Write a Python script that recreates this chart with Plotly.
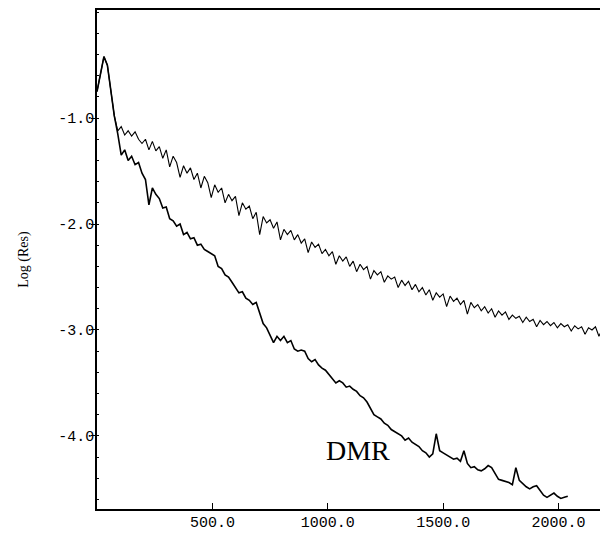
import plotly.graph_objects as go

# Residual history (log10 of residual) sampled every 15 iterations
ITER_STEP = 15

res_standard = [
    -0.75, -0.60, -0.42, -0.50, -0.72, -0.98, -1.12, -1.08, -1.16, -1.12,
    -1.17, -1.13, -1.20, -1.24, -1.20, -1.30, -1.22, -1.31, -1.27, -1.38,
    -1.30, -1.46, -1.36, -1.42, -1.56, -1.45, -1.52, -1.47, -1.58, -1.52,
    -1.66, -1.55, -1.61, -1.75, -1.63, -1.70, -1.66, -1.80, -1.72, -1.78,
    -1.74, -1.92, -1.80, -1.86, -1.83, -1.95, -1.89, -2.10, -1.93, -1.99,
    -1.96, -2.04, -1.98, -2.15, -2.05, -2.10, -2.06, -2.15, -2.10, -2.18,
    -2.14, -2.27, -2.17, -2.22, -2.19, -2.28, -2.24, -2.30, -2.26, -2.38,
    -2.30, -2.35, -2.31, -2.40, -2.35, -2.45, -2.38, -2.43, -2.40, -2.52,
    -2.44, -2.48, -2.45, -2.55, -2.49, -2.52, -2.50, -2.60, -2.53, -2.58,
    -2.54, -2.62, -2.57, -2.64, -2.60, -2.67, -2.62, -2.72, -2.65, -2.69,
    -2.66, -2.78, -2.68, -2.73, -2.70, -2.76, -2.72, -2.85, -2.74, -2.79,
    -2.76, -2.82, -2.78, -2.84, -2.80, -2.88, -2.82, -2.86, -2.83, -2.90,
    -2.86, -2.89, -2.87, -2.93, -2.88, -2.92, -2.90, -2.97, -2.91, -2.95,
    -2.92, -2.96, -2.93, -2.98, -2.94, -2.97, -2.95, -3.01, -2.96, -2.99,
    -2.97, -3.04, -2.98, -3.00, -2.97, -3.06, -2.99,
]

res_dmr = [
    -0.75, -0.60, -0.42, -0.50, -0.72, -0.98, -1.15, -1.35, -1.30, -1.40,
    -1.36, -1.44, -1.42, -1.52, -1.58, -1.82, -1.66, -1.72, -1.76, -1.85,
    -1.84, -1.95, -1.97, -2.02, -2.00, -2.10, -2.08, -2.14, -2.13, -2.20,
    -2.19, -2.24, -2.26, -2.28, -2.30, -2.40, -2.42, -2.48, -2.50, -2.55,
    -2.60, -2.65, -2.64, -2.70, -2.72, -2.76, -2.74, -2.85, -2.94, -2.98,
    -3.05, -3.12, -3.06, -3.10, -3.06, -3.12, -3.10, -3.18, -3.20, -3.19,
    -3.20, -3.27, -3.30, -3.28, -3.33, -3.36, -3.38, -3.42, -3.45, -3.50,
    -3.48, -3.50, -3.54, -3.53, -3.56, -3.58, -3.62, -3.64, -3.68, -3.74,
    -3.80, -3.82, -3.84, -3.88, -3.90, -3.94, -3.96, -3.98, -4.00, -4.04,
    -4.02, -4.06, -4.08, -4.10, -4.14, -4.16, -4.20, -4.17, -3.98, -4.14,
    -4.16, -4.18, -4.20, -4.22, -4.21, -4.24, -4.14, -4.26, -4.30, -4.29,
    -4.32, -4.33, -4.31, -4.28, -4.30, -4.36, -4.41, -4.42, -4.43, -4.44,
    -4.46, -4.30, -4.42, -4.45, -4.48, -4.50, -4.48, -4.47, -4.52, -4.56,
    -4.58, -4.56, -4.54, -4.57, -4.59, -4.58, -4.57,
]

iters_standard = list(range(0, ITER_STEP * len(res_standard), ITER_STEP))
iters_dmr = list(range(0, ITER_STEP * len(res_dmr), ITER_STEP))

x_ticks = [500, 1000, 1500, 2000]
x_tick_labels = ["500.0", "1000.0", "1500.0", "2000.0"]
y_ticks = [-1, -2, -3, -4]
y_tick_labels = ["-1.0", "-2.0", "-3.0", "-4.0"]
y_title = "Log (Res)"
label_text = "DMR"

fig = go.Figure()
fig.add_trace(go.Scatter(x=iters_standard, y=res_standard, mode="lines",
                         line=dict(color="black", width=1.1), showlegend=False))
fig.add_trace(go.Scatter(x=iters_dmr, y=res_dmr, mode="lines",
                         line=dict(color="black", width=1.6), showlegend=False))

fig.add_annotation(x=1130, y=-4.14, text=label_text, showarrow=False,
                   font=dict(family="Liberation Serif", size=28, color="black"))

tick_font = dict(family="Liberation Mono", size=15, color="black")

# the page body adds an 8px offset, so margins are shifted to compensate
fig.update_layout(
    width=608, height=533,
    margin=dict(l=89, r=12, t=0, b=32),
    paper_bgcolor="white", plot_bgcolor="white",
    xaxis=dict(range=[0, 2197], tickvals=x_ticks, ticktext=x_tick_labels,
               ticks="inside", ticklen=6, tickcolor="black", tickwidth=1,
               ticklabelstandoff=-2,
               showline=True, linecolor="black", linewidth=1.5, mirror=True,
               showgrid=False, zeroline=False, tickfont=tick_font),
    yaxis=dict(range=[-4.69, 0.02], tickvals=y_ticks, ticktext=y_tick_labels,
               ticks="outside", ticklen=4, tickcolor="black", tickwidth=1,
               ticklabelstandoff=-6,
               showline=True, linecolor="black", linewidth=1.5, mirror=True,
               showgrid=False, zeroline=False, tickfont=tick_font,
               minor=dict(dtick=0.2, ticks="inside", ticklen=2, tickcolor="black"),
               title=dict(text=y_title, standoff=26,
                          font=dict(family="Liberation Serif", size=14, color="black"))),
)

fig.write_html("out.html")
